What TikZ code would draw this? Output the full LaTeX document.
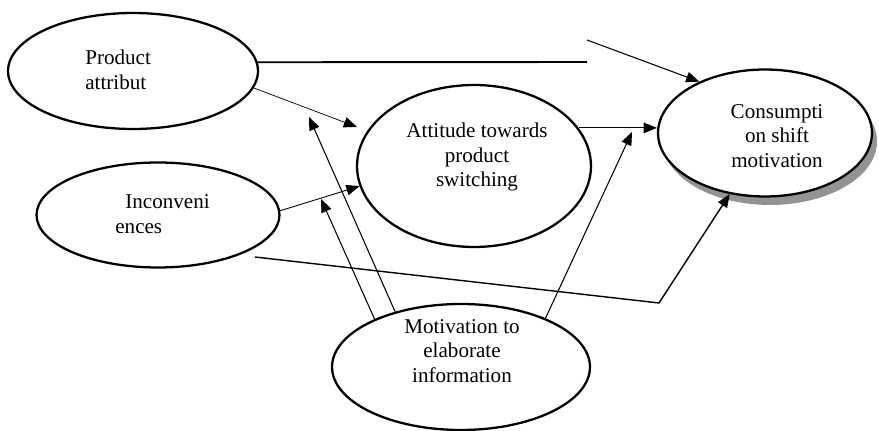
\documentclass[tikz,border=0pt]{standalone}
\usepackage{fontspec}
\setmainfont{Liberation Serif}
\usepackage{tikz}
\usetikzlibrary{arrows.meta, shapes.geometric, shadows}

\begin{document}
\begin{tikzpicture}[x=0.02cm, y=-0.02cm,
    construct/.style={ellipse, draw, line width=1.3pt, fill=white, inner sep=0pt},
    txt/.style={font=\fontsize{12}{14}\selectfont, inner sep=0pt, align=center},
    link/.style={-{Triangle[length=7.5pt, width=6pt]}, line width=0.6pt}]

\useasboundingbox (0,0) rectangle (879,431);

% --- Constructs ---
\node[construct, minimum width=5.0cm, minimum height=2.32cm] (attr) at (133,71) {};
\node[txt, align=left, anchor=west] (attrtext) at (85,70) {Product\\attribut};

\node[construct, minimum width=4.86cm, minimum height=2.1cm] (inconv) at (158,215) {};
\node[txt, align=left, anchor=west] (inconvtext) at (115,214) {\hspace*{0.2cm}Inconveni\\ences};

\node[construct, minimum width=4.68cm, minimum height=3.24cm] (attitude) at (474,166) {};
\node[txt] (attitudetext) at (477,157) {Attitude towards\\product\\switching};

\node[construct, minimum width=4.28cm, minimum height=2.54cm,
      drop shadow={shadow xshift=0.1cm, shadow yshift=-0.17cm, opacity=1, fill=gray!85}]
      (shift) at (765,133) {};
\node[txt] (shifttext) at (777,136) {Consumpti\\on shift\\motivation};

\node[construct, minimum width=5.16cm, minimum height=2.52cm] (elab) at (461,367) {};
\node[txt] (elabtext) at (462,351) {Motivation to\\elaborate\\information};

% free ends
\coordinate (bend1) at (587,62);
\coordinate (start2) at (587,40);
\coordinate (tip3) at (357,127);
\coordinate (start5) at (255,257);
\coordinate (bend5) at (659,303);
\coordinate (tip7) at (632,132);
\coordinate (tip8) at (321,199);
\coordinate (tip9) at (309,117);

% --- Paths ---
\draw[line width=1.1pt] (attr.4) -- (bend1);
\draw[link] (start2) -- (shift.142);
\draw[link, line width=0.4pt] (attr.-8) -- (tip3);
\draw[link, line width=0.5pt] (inconv.2) -- (attitude.190);
\draw[link, line width=0.8pt] (start5) -- (bend5) -- (shift.240);
\draw[link, line width=0.5pt] (attitude.20) -- (attitude.20 -| shift.west);
\draw[link] (elab.30) -- (tip7);
\draw[link] (elab.151) -- (tip8);
\draw[link] (elab.140) -- (tip9);

\end{tikzpicture}
\end{document}
